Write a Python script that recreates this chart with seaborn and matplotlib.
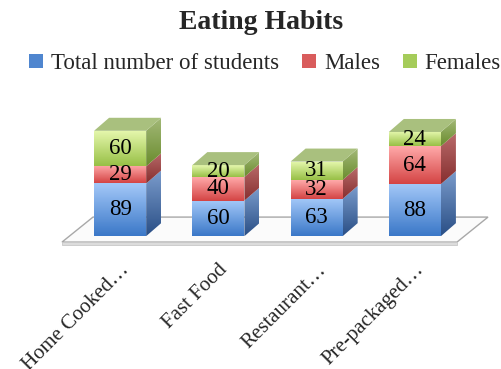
import numpy as np
import pandas as pd
import matplotlib
matplotlib.use("Agg")
import matplotlib.pyplot as plt
import seaborn as sns
from matplotlib.patches import Polygon, Patch
from matplotlib.colors import LinearSegmentedColormap

# ---- data ----
categories = ["Home Cooked…", "Fast Food", "Restaurant…", "Pre-packaged…"]
total_students = [89, 60, 63, 88]
males = [29, 40, 32, 64]
females = [60, 20, 31, 24]
series_names = ["Total number of students", "Males", "Females"]

# ---- styles ----
front_cols = {  # (top, bottom)
    0: ("#a3c8f8", "#3b78c8"),
    1: ("#ffa9a9", "#d44444"),
    2: ("#e6f8ae", "#98c046"),
}
side_cols = {
    0: ("#7b9ccc", "#2a4f86"),
    1: ("#b86a6a", "#872f2f"),
    2: ("#a3b978", "#6a8c2e"),
}
top_cols = {0: "#8fb0dd", 1: "#e09090", 2: "#a9c07e"}
legend_cols = ["#4f86cf", "#d95c5c", "#a5cc5a"]

sns.set_theme(style="white")
plt.rcParams["font.family"] = ["Liberation Serif", "DejaVu Serif"]

fig = plt.figure(figsize=(5.02, 3.69), dpi=100)
ax = fig.add_axes([71 / 502, (369 - 248) / 369, 393 / 502, 148 / 369])

df = pd.DataFrame({"cat": categories, "s0": total_students, "s1": males, "s2": females})
df["c0"] = df["s0"]
df["c1"] = df["c0"] + df["s1"]
df["c2"] = df["c1"] + df["s2"]

for col in ["c2", "c1", "c0"]:
    sns.barplot(data=df, x="cat", y=col, color="grey", width=0.53, ax=ax,
                saturation=1, order=categories)

XL, YL = (-0.5, 3.5), (-20, 230)
ax.set_xlim(*XL)
ax.set_ylim(*YL)
ax.set_autoscale_on(False)

# pixel -> data conversions for 3D depth
p0 = ax.transData.transform((0, 0))
p1 = ax.transData.transform((1, 1))
px_x = p1[0] - p0[0]
px_y = p1[1] - p0[1]
dx, dy = 15 / px_x, 13 / px_y


def grad_fill(verts, c_top, c_bot, z):
    poly = Polygon(verts, closed=True, facecolor="none", edgecolor="none")
    ax.add_patch(poly)
    cmap = LinearSegmentedColormap.from_list("g", [c_bot, c_top])
    xs = [v[0] for v in verts]
    ys = [v[1] for v in verts]
    im = ax.imshow(np.linspace(0, 1, 64).reshape(-1, 1),
                   extent=[min(xs), max(xs), min(ys), max(ys)],
                   origin="lower", cmap=cmap, aspect="auto", zorder=z,
                   interpolation="bilinear")
    im.set_clip_path(poly)


# floor
fx0 = XL[0] - 9 / px_x
fx1 = XL[1] - 7 / px_x
fy = -10
fdx, fdy = 31 / px_x, 25 / px_y
floor = Polygon([(fx0, fy), (fx1, fy), (fx1 + fdx, fy + fdy), (fx0 + fdx, fy + fdy)],
                closed=True, facecolor="#fbfbfb", edgecolor="#a8a8a8", lw=1.0,
                zorder=1, clip_on=False)
ax.add_patch(floor)
thick = Polygon([(fx0, fy), (fx1, fy), (fx1, fy - 3 / px_y), (fx0, fy - 3 / px_y)],
                closed=True, facecolor="#dcdcdc", edgecolor="#c8c8c8", lw=0.6,
                zorder=1, clip_on=False)
ax.add_patch(thick)

patches = list(ax.patches)[:12]
n = len(categories)
bar_geom = [(patches[i].get_x(), patches[i].get_width()) for i in range(n)]
for p in patches:
    p.set_visible(False)

seg_vals = [total_students, males, females]
for i in range(n):
    x0, w = bar_geom[i]
    x1 = x0 + w
    bottom = 0
    for s in range(3):
        v = seg_vals[s][i]
        y0, y1 = bottom, bottom + v
        z = 3 + s * 0.1
        grad_fill([(x0, y0), (x1, y0), (x1, y1), (x0, y1)], *front_cols[s], z)
        grad_fill([(x1, y0), (x1 + dx, y0 + dy), (x1 + dx, y1 + dy), (x1, y1)], *side_cols[s], z)
        ax.text((x0 + x1) / 2, (y0 + y1) / 2, str(v), ha="center", va="center",
                fontsize=16.5, color="black", zorder=5)
        bottom = y1
    top = Polygon([(x0, bottom), (x1, bottom), (x1 + dx, bottom + dy), (x0 + dx, bottom + dy)],
                  closed=True, facecolor=top_cols[2], edgecolor="none", zorder=3.5)
    ax.add_patch(top)

ax.set_xlim(*XL)
ax.set_ylim(*YL)
for sp in ax.spines.values():
    sp.set_visible(False)
ax.set_yticks([])
ax.set_xlabel("")
ax.set_ylabel("")
ax.set_xticks(range(n))
ax.set_xticklabels(categories, rotation=45, ha="right", rotation_mode="anchor",
                   fontsize=15)
ax.tick_params(axis="x", length=0, pad=9)
ax.patch.set_alpha(0)

fig.text(0.521, 0.938, "Eating Habits", ha="center", va="center",
         fontsize=20, fontweight="bold")
handles = [Patch(facecolor=c, edgecolor="none") for c in legend_cols]
fig.legend(handles, series_names, ncol=3, loc="center", bbox_to_anchor=(0.528, 0.828),
           frameon=False, fontsize=16.5, handlelength=0.6, handleheight=0.6,
           handletextpad=0.35, columnspacing=1.0)

fig.savefig("out.png", dpi=100)
